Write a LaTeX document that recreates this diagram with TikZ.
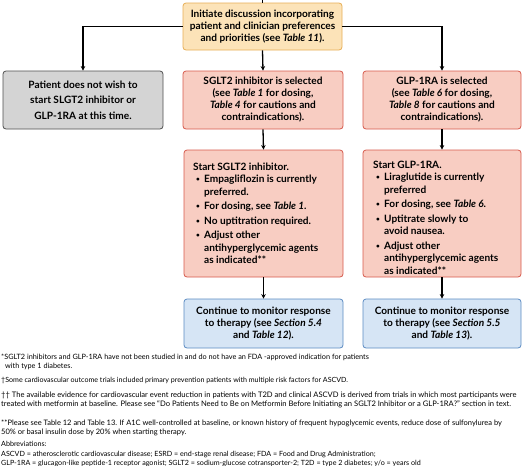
\documentclass[tikz,border=0pt]{standalone}
\usepackage{fontspec}
\setmainfont{Lato}
\usetikzlibrary{arrows.meta}
\definecolor{orfill}{HTML}{FCE3B8}
\definecolor{ordraw}{HTML}{E8AE55}
\definecolor{rdfill}{HTML}{F8CDC2}
\definecolor{rddraw}{HTML}{D65A4C}
\definecolor{gyfill}{HTML}{D4D4D4}
\definecolor{gydraw}{HTML}{505050}
\definecolor{blfill}{HTML}{D6E5F5}
\definecolor{bldraw}{HTML}{5B8BC2}
\newcommand{\bl}{\hspace*{3pt}\makebox[8pt][l]{\raisebox{0.8pt}{\fontsize{6.5}{7}\selectfont\textbullet}}}
\newcommand{\ind}{\hspace*{11pt}}
\newcommand{\tb}[1]{\textit{#1}}
\begin{document}
\begin{tikzpicture}[x=1pt,y=-1pt,
  box/.style={draw, rounded corners=3pt, line width=0.8pt, align=center, inner sep=0pt,
    font=\bfseries\fontsize{10.1}{12}\selectfont},
  orbox/.style={box, fill=orfill, draw=ordraw},
  rdbox/.style={box, fill=rdfill, draw=rddraw},
  gybox/.style={box, fill=gyfill, draw=gydraw, font=\bfseries\fontsize{10.1}{15.5}\selectfont},
  blbox/.style={box, fill=blfill, draw=bldraw},
  listtext/.style={anchor=north west, inner sep=0pt, align=left, font=\bfseries\fontsize{10.1}{12.5}\selectfont},
  conn/.style={line width=1.3pt},
  arr/.style={conn, -{Stealth[length=4.5pt,width=4.5pt]}},
  fn/.style={anchor=base west, inner sep=0pt}
]
\useasboundingbox (0,0) rectangle (523,466);

\coordinate (topin) at (262.5,0);
\node[orbox, minimum width=159pt, minimum height=47pt] (top) at (262.5,26.5)
  {Initiate discussion incorporating\\patient and clinician preferences\\and priorities (see \tb{Table 11}).};

\node[gybox, minimum width=160pt, minimum height=58pt] (gray) at (83,100)
  {Patient does not wish to\\start SLGT2 inhibitor or\\GLP-1RA at this time.};
\node[rdbox, minimum width=160pt, minimum height=58pt] (ssel) at (263,100)
  {SGLT2 inhibitor is selected\\(see \tb{Table 1} for dosing,\\\tb{Table 4} for cautions and\\contraindications).};
\node[rdbox, minimum width=158pt, minimum height=58pt] (gsel) at (442,100)
  {GLP-1RA is selected\\(see \tb{Table 6} for dosing,\\\tb{Table 8} for cautions and\\contraindications).};

\node[rdbox, minimum width=159pt, minimum height=127pt] (sstart) at (263.5,213.5) {};
\node[rdbox, minimum width=158pt, minimum height=127pt] (gstart) at (442,213.5) {};
\node[listtext] (stext) at (193,162.5)
  {Start SGLT2 inhibitor.\\
   \bl Empagliflozin is currently\\
   \ind preferred.\\[2pt]
   \bl For dosing, see \tb{Table 1}.\\[2pt]
   \bl No uptitration required.\\[2pt]
   \bl Adjust other\\
   \ind antihyperglycemic agents\\
   \ind as indicated**};
\node[listtext] (gtext) at (373,160.5)
  {Start GLP-1RA.\\
   \bl Liraglutide is currently\\
   \ind preferred\\[2pt]
   \bl For dosing, see \tb{Table 6}.\\[2pt]
   \bl Uptitrate slowly to\\
   \ind avoid nausea.\\[2pt]
   \bl Adjust other\\
   \ind antihyperglycemic agents\\
   \ind as indicated**};

\node[blbox, minimum width=159pt, minimum height=49pt] (smon) at (263.5,323.5)
  {Continue to monitor response\\to therapy (see \tb{Section 5.4}\\and \tb{Table 12}).};
\node[blbox, minimum width=158pt, minimum height=49pt] (gmon) at (442,323.5)
  {Continue to monitor response\\to therapy (see \tb{Section 5.5}\\and \tb{Table 13}).};

\draw[conn] (topin) -- (top.north);
\draw[arr] (top.west) -| (gray.north);
\draw[arr] (top.east) -| (gsel.north);
\draw[arr] (top.south) -- (ssel.north);
\draw[arr] (ssel.south) -- (sstart.north);
\draw[arr] (gsel.south) -- (gstart.north);
\draw[arr] (sstart.south) -- (smon.north);
\draw[arr] (gstart.south) -- (gmon.north);

\node[fn, font=\fontsize{7.3}{9}\selectfont] (f1a) at (1,359) {*SGLT2 inhibitors and GLP-1RA have not been studied in and do not have an FDA -approved indication for patients};
\node[fn, font=\fontsize{7.3}{9}\selectfont] (f1b) at (5,368.5) {with type 1 diabetes.};
\node[fn, font=\fontsize{7.1}{9}\selectfont] (f2) at (1,382) {†Some cardiovascular outcome trials included primary prevention patients with multiple risk factors for ASCVD.};
\node[fn, font=\fontsize{7.6}{9}\selectfont] (f3a) at (1,397) {†† The available evidence for cardiovascular event reduction in patients with T2D and clinical ASCVD is derived from trials in which most participants were};
\node[fn, font=\fontsize{7.6}{9}\selectfont] (f3b) at (1,406.5) {treated with metformin at baseline. Please see ``Do Patients Need to Be on Metformin Before Initiating an SGLT2 Inhibitor or a GLP-1RA?'' section in text.};
\node[fn, font=\fontsize{7.5}{9}\selectfont] (f4a) at (1,425) {**Please see Table 12 and Table 13. If A1C well-controlled at baseline, or known history of frequent hypoglycemic events, reduce dose of sulfonylurea by};
\node[fn, font=\fontsize{7.5}{9}\selectfont] (f4b) at (1,434.5) {50\% or basal insulin dose by 20\% when starting therapy.};
\node[fn, font=\fontsize{7.15}{9}\selectfont] (f5a) at (1,446.5) {Abbreviations:};
\node[fn, font=\fontsize{7.15}{9}\selectfont] (f5b) at (1,456) {ASCVD = atherosclerotic cardiovascular disease; ESRD = end-stage renal disease; FDA = Food and Drug Administration;};
\node[fn, font=\fontsize{7.15}{9}\selectfont] (f5c) at (1,465) {GLP-1RA = glucagon-like peptide-1 receptor agonist; SGLT2 = sodium-glucose cotransporter-2; T2D = type 2 diabetes; y/o = years old};
\end{tikzpicture}
\end{document}
